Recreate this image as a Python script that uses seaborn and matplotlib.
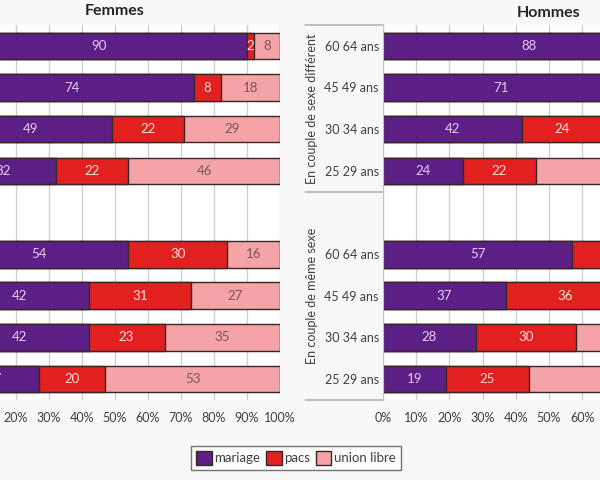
import matplotlib
matplotlib.use("Agg")
import matplotlib.pyplot as plt
from matplotlib.patches import Patch
import matplotlib.transforms as mtransforms
import seaborn as sns
import pandas as pd

sns.set_style("white")
plt.rcParams['font.family'] = ['Lato', 'DejaVu Sans']

# rows from top to bottom: couples de sexe different, then couples de meme sexe
ages = ["60 64 ans", "45 49 ans", "30 34 ans", "25 29 ans"]
groups = ["En couple de sexe différent", "En couple de même sexe"]

femmes_mariage = [90, 74, 49, 32, 54, 42, 42, 27]
femmes_pacs = [2, 8, 22, 22, 30, 31, 23, 20]
femmes_union = [8, 18, 29, 46, 16, 27, 35, 53]

hommes_mariage = [88, 71, 42, 24, 57, 37, 28, 19]
hommes_pacs = [3, 10, 24, 22, 29, 36, 30, 25]
hommes_union = [9, 19, 34, 54, 14, 27, 42, 56]

legend_labels = ["mariage", "pacs", "union libre"]
colors = ["#5b1f86", "#e2201f", "#f4a3a6"]
text_colors = ["#e8cdf2", "#ffe0da", "#7a5656"]
edge = "#3a2626"

rows = [g + "|" + a for g in groups for a in ages]
order = rows[:4] + ["blank"] + rows[4:]


def make_df(mariage, pacs, union):
    df = pd.DataFrame({"row": rows, "mariage": mariage, "pacs": pacs, "union": union})
    df["cum_pacs"] = df["mariage"] + df["pacs"]
    df["total"] = df["cum_pacs"] + df["union"]
    return df


def draw_panel(ax, df, title, title_pad):
    # stacked bars: draw the longest first, then overlay the shorter ones
    for col, c in zip(["mariage", "cum_pacs", "total"][::-1], colors[::-1]):
        sns.barplot(data=df, x=col, y="row", order=order, orient="h", color=c,
                    saturation=1, edgecolor=edge, linewidth=1, width=0.64,
                    errorbar=None, ax=ax)
    # value labels in the middle of each segment
    for i, r in df.iterrows():
        ypos = order.index(r["row"])
        starts = [0, r["mariage"], r["cum_pacs"]]
        vals = [r["mariage"], r["pacs"], r["union"]]
        for s, v, tc in zip(starts, vals, text_colors):
            ax.text(s + v / 2, ypos, str(v), ha="center", va="center",
                    fontsize=9.5, color=tc, clip_on=True)

    ax.set_xlim(0, 100)
    ax.set_ylim(8.5, -0.5)
    ax.set_xticks(range(0, 101, 10))
    ax.set_xticklabels([f"{v}%" for v in range(0, 101, 10)], fontsize=9, color="#404040")
    ax.set_yticks(range(9))
    ax.set_yticklabels(ages + [""] + ages, fontsize=9, color="#404040")
    ax.set_xlabel("")
    ax.set_ylabel("")
    ax.set_facecolor("white")
    ax.set_axisbelow(True)
    ax.xaxis.grid(True, color="#cfcfcf", linewidth=1)
    ax.yaxis.grid(False)
    for s in ["top", "right", "bottom"]:
        ax.spines[s].set_visible(False)
    ax.spines["left"].set_color("#c4c4c4")
    ax.tick_params(axis="x", length=0, pad=9)
    ax.tick_params(axis="y", length=0, pad=3)
    ax.set_title(title, fontsize=11.5, fontweight="bold", pad=title_pad)

    # multi-level category axis: group labels and separators
    trans = mtransforms.blended_transform_factory(ax.transAxes, ax.transData)
    for yy in [-0.5, 3.5, 8.5]:
        ax.plot([-0.235, 0], [yy, yy], transform=trans, color="#b8b8b8",
                linewidth=1.2, clip_on=False)
    for g, yc in zip(groups, [1.5, 6.0]):
        ax.text(-0.214, yc, g, transform=trans, rotation=90, ha="center",
                va="center", fontsize=9, color="#404040")


fig = plt.figure(figsize=(6, 4.8), dpi=100)
fig.patch.set_facecolor("#f8f8f8")

ax_f = fig.add_axes([-50 / 600, 80 / 480, 330 / 600, 375 / 480])
ax_h = fig.add_axes([383 / 600, 80 / 480, 332 / 600, 375 / 480])

draw_panel(ax_f, make_df(femmes_mariage, femmes_pacs, femmes_union), "Femmes", 7.5)
draw_panel(ax_h, make_df(hommes_mariage, hommes_pacs, hommes_union), "Hommes", 6)

handles = [Patch(facecolor=c, edgecolor=edge, linewidth=1) for c in colors]
leg = fig.legend(handles, legend_labels, loc="center", bbox_to_anchor=(296 / 600, 1 - 458 / 480),
                 ncol=3, fontsize=9.5, frameon=True, fancybox=False,
                 handlelength=1.2, handleheight=1.2, handletextpad=0.2,
                 columnspacing=0.4, borderpad=0.4)
leg.get_frame().set_edgecolor("#505050")
leg.get_frame().set_linewidth(1)
leg.get_frame().set_facecolor("white")
for t in leg.get_texts():
    t.set_color("#404040")

fig.savefig("out.png", dpi=100, facecolor=fig.get_facecolor())
